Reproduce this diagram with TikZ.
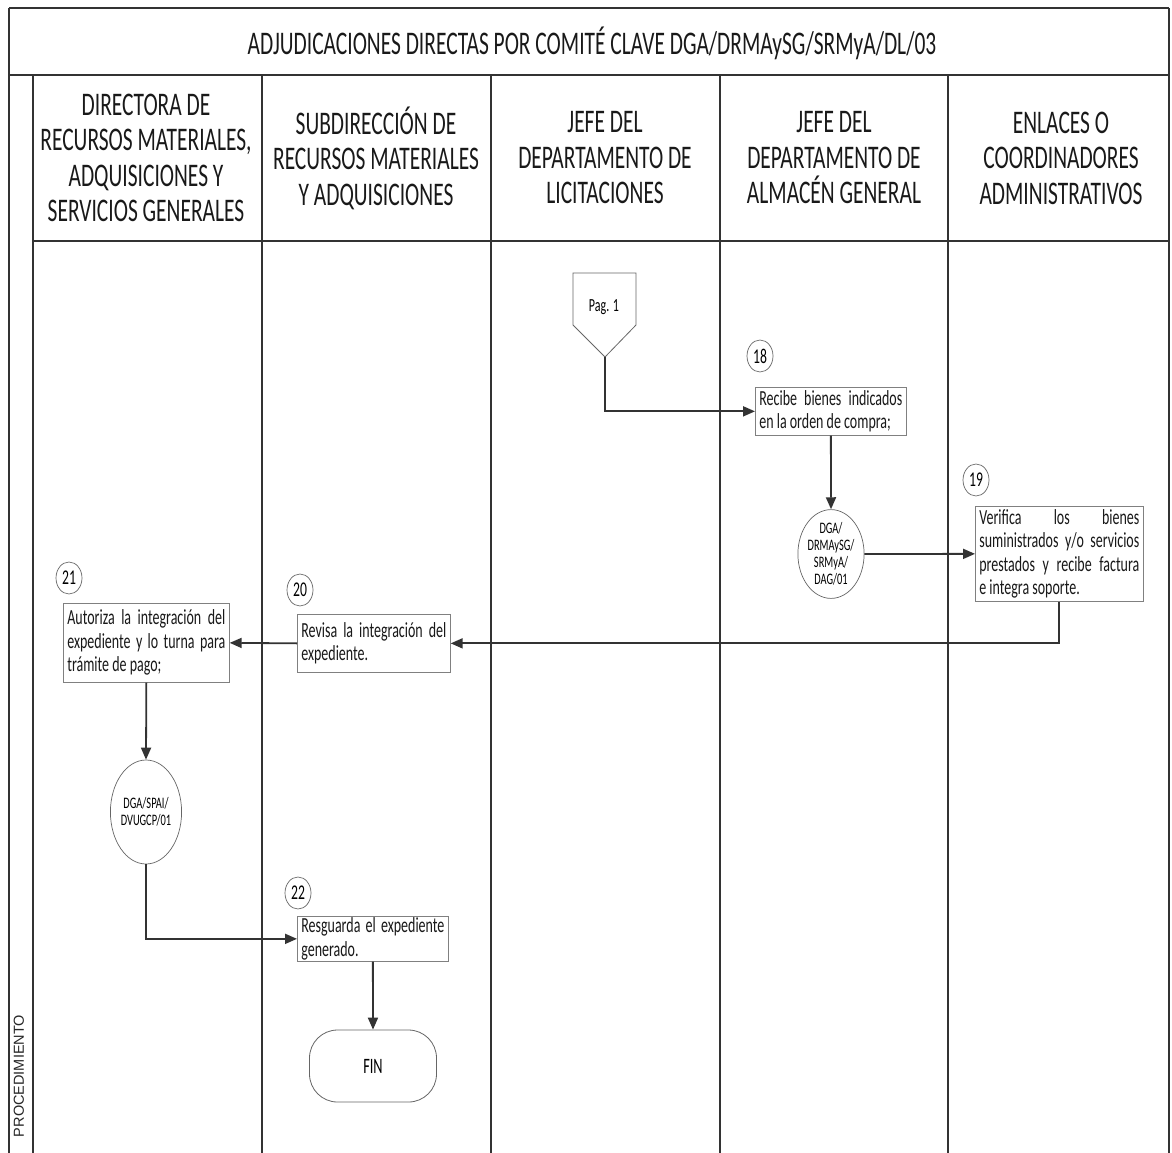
\documentclass[tikz,border=0pt]{standalone}
\usepackage{fontspec}
\setmainfont{Carlito}
\newfontfamily\cfont[FakeStretch=0.65]{Carlito}
\newfontfamily\lblfont{Liberation Sans}
\usetikzlibrary{arrows.meta,shapes.geometric}
\begin{document}
\begin{tikzpicture}[x=1pt,y=-1pt,
  lane/.style={line width=1.4pt, draw=black!80},
  flow/.style={line width=1.8pt, draw=black!80, -{Triangle[length=12pt,width=10pt]}},
  stepbox/.style={draw=black!50, line width=0.7pt, anchor=north west, inner xsep=4pt, inner ysep=0pt,
    align=justify, font=\cfont\fontsize{21.5}{23.5}\selectfont, text=black!90},
  numc/.style={ellipse, draw=black!60, line width=0.7pt, minimum width=26pt, minimum height=32pt, inner sep=0pt,
    font=\cfont\fontsize{21}{22}\selectfont},
  docell/.style={ellipse, draw=black!60, line width=0.7pt, inner sep=0pt, align=center,
    font=\cfont\fontsize{16}{17}\selectfont},
  lanehead/.style={align=center, font=\cfont\fontsize{33}{35.5}\selectfont, text=black!90},
  term/.style={draw=black!60, line width=0.8pt, rounded corners=28pt, minimum width=127pt, minimum height=72pt,
    font=\cfont\fontsize{22}{24}\selectfont}]
\useasboundingbox (0,0) rectangle (1172,1153);
\fill[white] (0,0) rectangle (1172,1153);
\clip (0,0) rectangle (1172,1153);

% frame, title row and lane header row
\draw[lane] (9,8) -- (1169,8);
\draw[lane] (9,75) -- (1169,75);
\draw[lane] (33,241) -- (1169,241);
\draw[lane] (9,8) -- (9,1160);
\draw[lane] (1169,8) -- (1169,1160);
\foreach \lx in {33,262,491,720,948}
  \draw[lane] (\lx,75) -- (\lx,1160);

\node[lanehead] (title) at (592,43) {ADJUDICACIONES DIRECTAS POR COMITÉ CLAVE DGA/DRMAySG/SRMyA/DL/03};
\node[lanehead] (h1) at (146,158) {DIRECTORA DE\\RECURSOS MATERIALES,\\ADQUISICIONES Y\\SERVICIOS GENERALES};
\node[lanehead] (h2) at (376,158) {SUBDIRECCIÓN DE\\RECURSOS MATERIALES\\Y ADQUISICIONES};
\node[lanehead] (h3) at (605,158) {JEFE DEL\\DEPARTAMENTO DE\\LICITACIONES};
\node[lanehead] (h4) at (834,158) {JEFE DEL\\DEPARTAMENTO DE\\ALMACÉN GENERAL};
\node[lanehead] (h5) at (1061,158) {ENLACES O\\COORDINADORES\\ADMINISTRATIVOS};

\node[rotate=90, font=\lblfont\fontsize{14.5}{16}\selectfont, text=black!85] (proc) at (19,1076) {PROCEDIMIENTO};

% off-page connector
\draw[draw=black!60, line width=0.8pt] (573,273) -- (636,273) -- (636,325) -- (605,357) -- (573,325) -- cycle;
\node[font=\cfont\fontsize{18.5}{20}\selectfont] (pag) at (604,307) {Pag. 1};
\coordinate (pagtip) at (605,357);

% steps
\node[numc] (n18) at (760,356) {18};
\node[stepbox, minimum width=151pt, minimum height=48pt, text width=143pt] (b18) at (755,387)
  {Recibe bienes indicados\linebreak en la orden de compra;};
\node[docell, minimum width=57pt, minimum height=80pt] (d1) at (831,554) {DGA/\\DRMAySG/\\SRMyA/\\DAG/01};

\node[numc] (n19) at (976,480) {19};
\node[stepbox, minimum width=168pt, minimum height=95pt, text width=160pt] (b19) at (975,506)
  {Verifica los bienes\linebreak suministrados y/o servicios\linebreak prestados y recibe factura\linebreak e integra soporte.};

\node[numc] (n20) at (300,590) {20};
\node[stepbox, minimum width=153pt, minimum height=58pt, text width=145pt] (b20) at (297,614)
  {Revisa la integración del\linebreak expediente.};

\node[numc] (n21) at (69,578) {21};
\node[stepbox, minimum width=166pt, minimum height=79pt, text width=158pt] (b21) at (63,603)
  {Autoriza la integración del\linebreak expediente y lo turna para\linebreak trámite de pago;};
\node[docell, minimum width=66pt, minimum height=104pt] (d2) at (146,812) {DGA/SPAI/\\DVUGCP/01};

\node[numc] (n22) at (298,893) {22};
\node[stepbox, minimum width=151pt, minimum height=45pt, text width=143pt] (b22) at (297,916)
  {Resguarda el expediente\linebreak generado.};

\node[term] (fin) at (373,1066) {FIN};

% connectors
\draw[flow] (pagtip) |- (b18.west);
\draw[flow] (b18.south) -- (d1.north);
\draw[flow] (d1.east) -- (b19.west);
\draw[flow] (b19.south) |- (b20.east);
\draw[flow] (b20.west) -- (b21.east);
\draw[flow] (b21.south) -- (d2.north);
\draw[flow] (d2.south) |- (b22.west);
\draw[flow] (b22.south) -- (fin.north);
\end{tikzpicture}
\end{document}
